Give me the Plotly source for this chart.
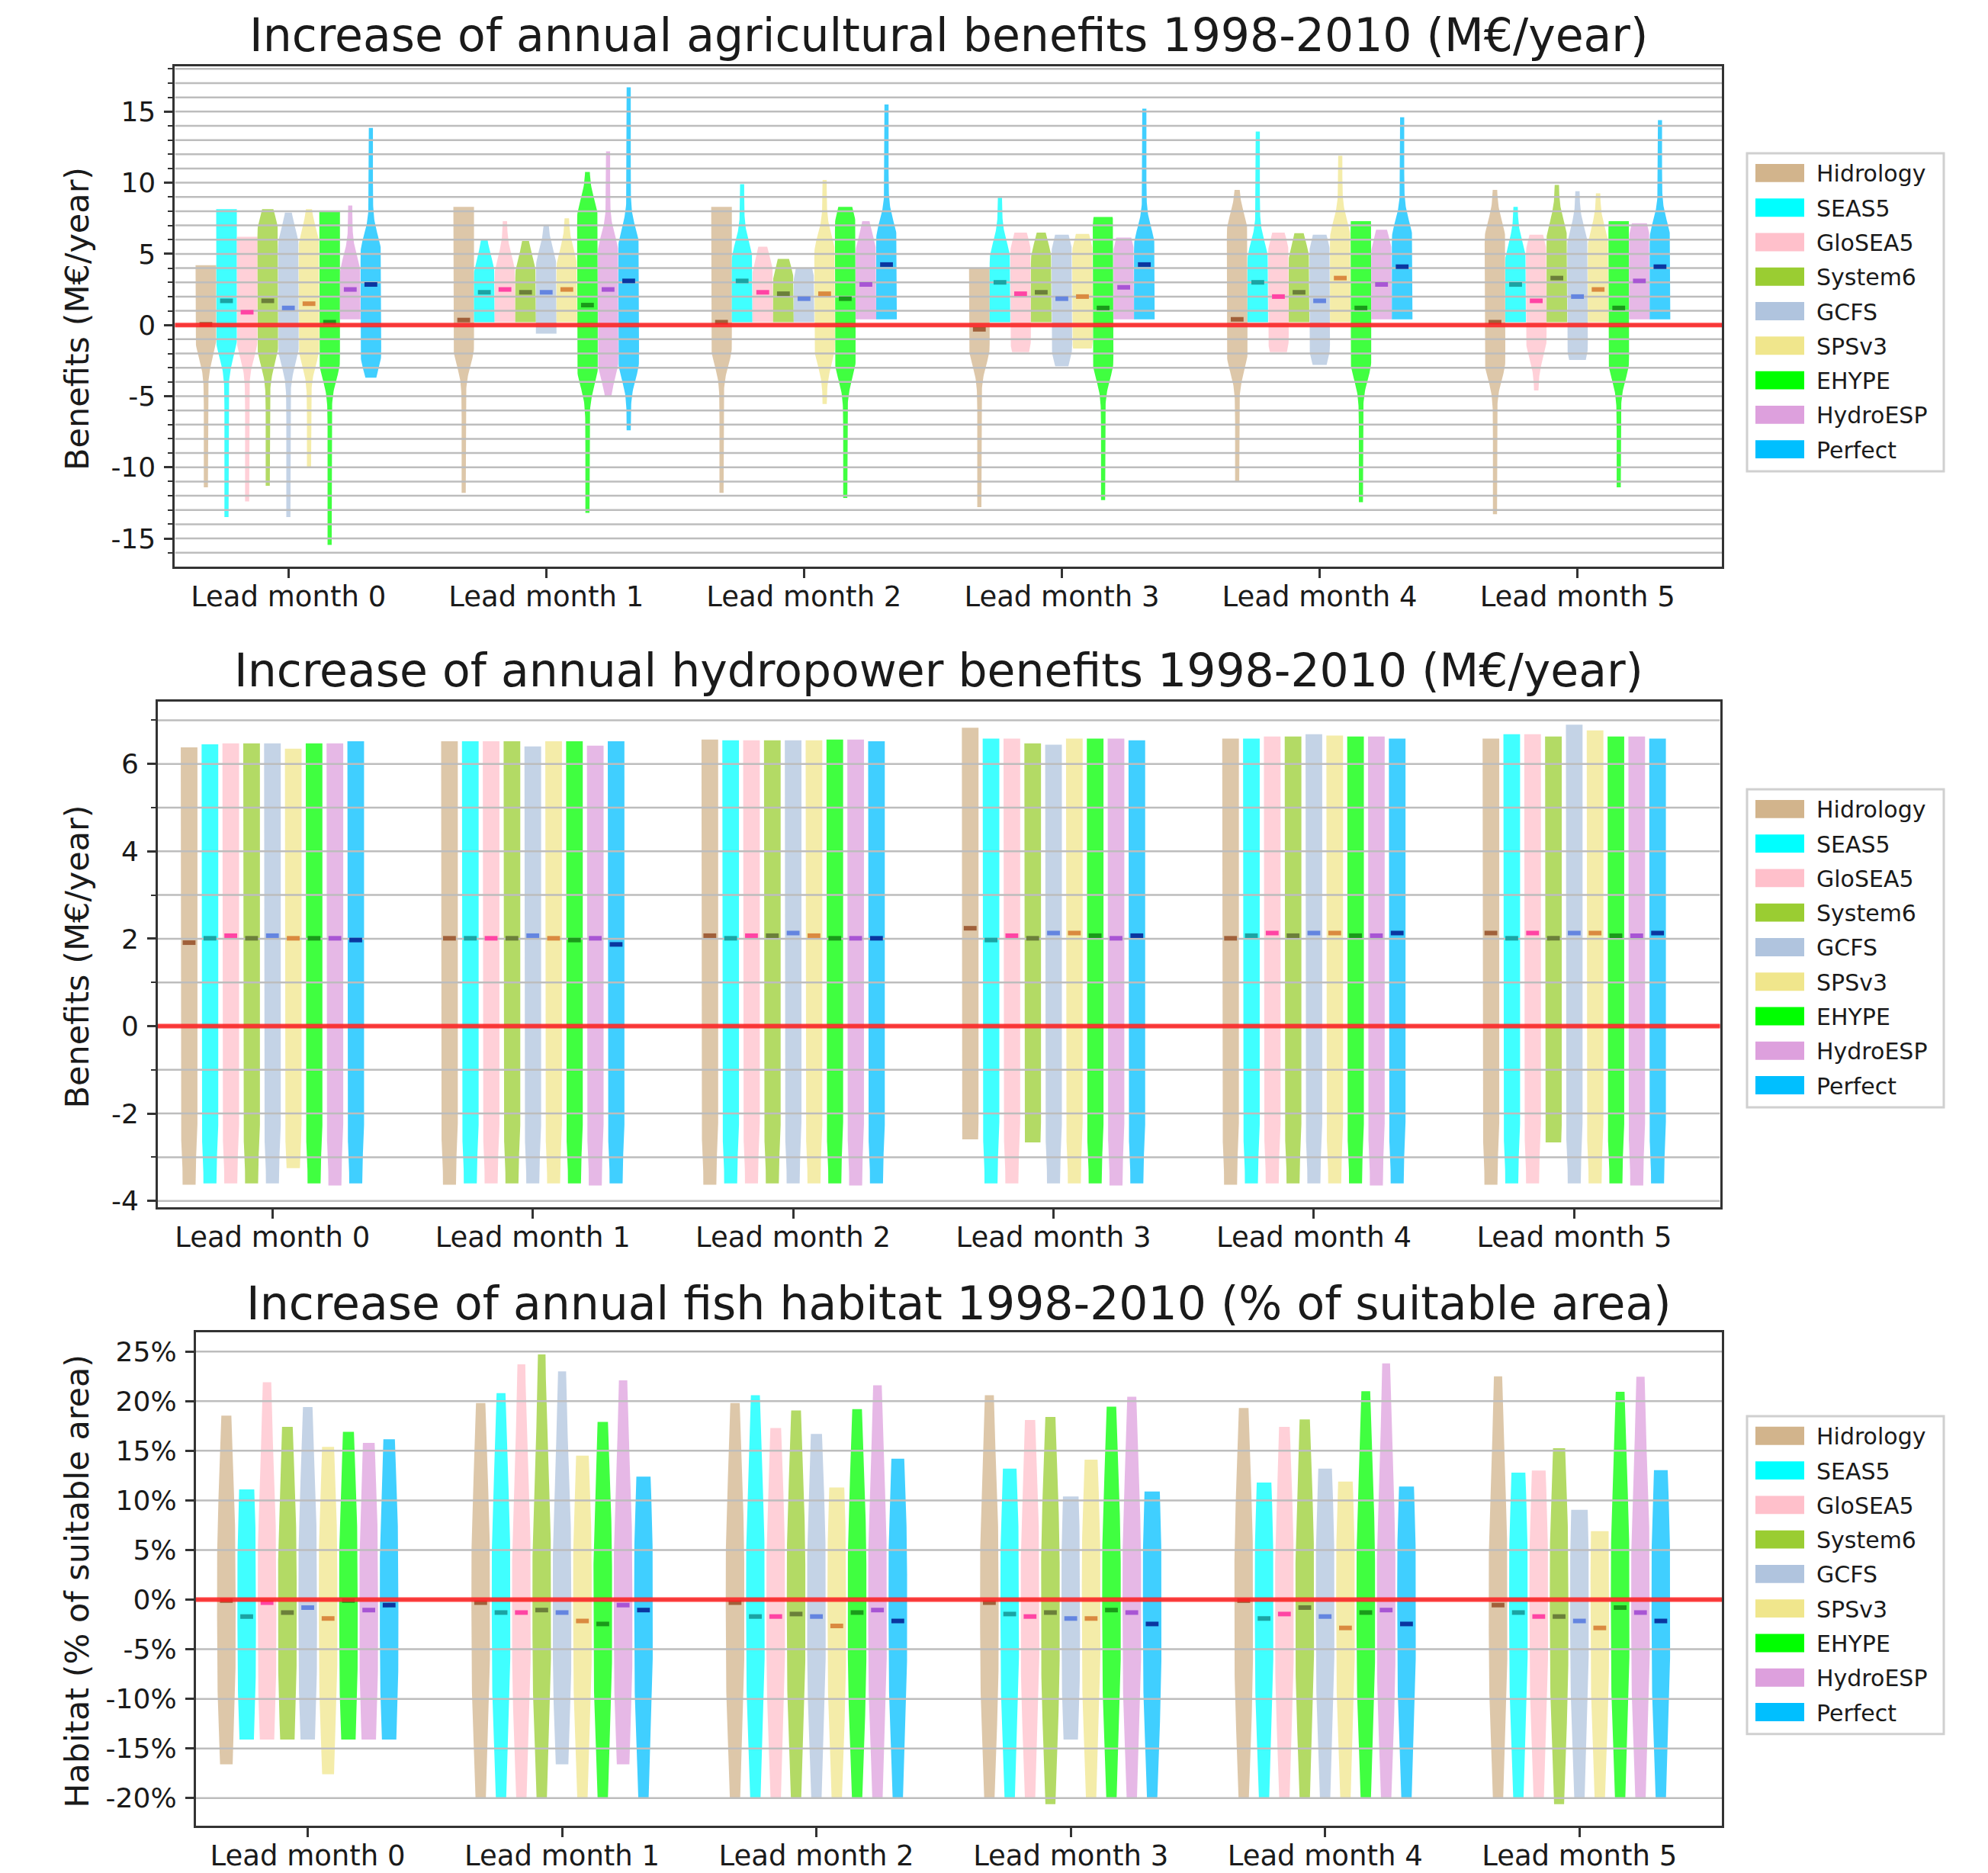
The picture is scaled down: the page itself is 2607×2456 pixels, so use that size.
import numpy as np
import plotly.graph_objects as go

# ---------------- data ----------------
MODELS = ["Hidrology", "SEAS5", "GloSEA5", "System6", "GCFS", "SPSv3", "EHYPE", "HydroESP", "Perfect"]
LEADS = ["Lead month 0", "Lead month 1", "Lead month 2", "Lead month 3", "Lead month 4", "Lead month 5"]

# Panel 1: agricultural benefits (M€/year); rows = lead month, cols = model
AGRI_MAX = [
    [4.2, 8.15, 6.2, 8.15, 7.9, 8.15, 8.0, 8.4, 13.85],
    [8.3, 6.0, 7.3, 5.9, 7.0, 7.5, 10.75, 12.2, 16.7],
    [8.3, 9.9, 5.5, 4.65, 4.0, 10.2, 8.3, 7.3, 15.5],
    [4.0, 8.95, 6.5, 6.5, 6.35, 6.4, 7.6, 6.15, 15.2],
    [9.5, 13.6, 6.5, 6.45, 6.35, 11.9, 7.3, 6.7, 14.6],
    [9.5, 8.3, 6.35, 9.85, 9.4, 9.25, 7.3, 7.15, 14.4],
]
AGRI_MIN = [
    [-11.4, -13.5, -12.4, -11.3, -13.5, -10.05, -15.45, 0.4, -3.7],
    [-11.8, 0.2, 0.2, 0.2, -0.6, 0.2, -13.2, -5.0, -7.4],
    [-11.8, 0.2, 0.2, 0.2, 0.2, -5.55, -12.15, 0.4, 0.4],
    [-12.8, 0.2, -1.9, 0.2, -2.9, -1.65, -12.3, 0.4, 0.4],
    [-11.0, 0.2, -1.9, 0.2, -2.8, 0.2, -12.45, 0.4, 0.4],
    [-13.3, 0.2, -4.6, 0.2, -2.45, 0.2, -11.4, 0.4, 0.4],
]
AGRI_MED = [
    [0.05, 1.7, 0.9, 1.7, 1.2, 1.5, 0.2, 2.5, 2.85],
    [0.35, 2.3, 2.5, 2.3, 2.3, 2.5, 1.4, 2.5, 3.1],
    [0.2, 3.1, 2.3, 2.2, 1.85, 2.2, 1.85, 2.85, 4.25],
    [-0.3, 3.0, 2.2, 2.3, 1.85, 2.0, 1.2, 2.65, 4.25],
    [0.4, 3.0, 2.0, 2.3, 1.7, 3.3, 1.2, 2.85, 4.1],
    [0.2, 2.85, 1.7, 3.3, 2.0, 2.5, 1.2, 3.1, 4.1],
]
# where the bulk of each agricultural distribution lies (widest part of the violin)
AGRI_BULK_LO = [
    [-1.0, -1.0, -1.0, -1.5, -1.5, -1.5, -2.5, 0.4, -2.0],
    [-1.5, 0.2, 0.2, 0.2, -0.6, 0.2, -3.0, -2.5, -2.5],
    [-1.5, 0.2, 0.2, 0.2, 0.2, -1.5, -2.5, 0.4, 0.4],
    [-1.5, 0.2, -1.0, 0.2, -1.5, -1.0, -2.5, 0.4, 0.4],
    [-2.0, 0.2, -1.0, 0.2, -1.5, 0.2, -2.5, 0.4, 0.4],
    [-2.5, 0.2, -1.0, 0.2, -1.5, 0.2, -2.5, 0.4, 0.4],
]
AGRI_BULK_HI = [
    [4.2, 8.15, 6.2, 6.5, 5.5, 5.5, 8.0, 3.5, 5.0],
    [8.3, 3.5, 3.5, 3.5, 4.0, 4.0, 7.5, 5.0, 5.5],
    [8.3, 4.5, 3.5, 3.0, 3.0, 5.0, 7.0, 5.0, 6.0],
    [4.0, 4.5, 5.0, 4.5, 5.0, 5.0, 7.0, 5.0, 5.5],
    [6.5, 4.5, 5.0, 4.5, 5.0, 6.0, 7.0, 5.0, 6.0],
    [6.0, 4.5, 5.0, 6.0, 5.5, 5.5, 7.0, 6.0, 6.0],
]

# Panel 2: hydropower benefits (M€/year)
HYDRO_MAX = [
    [6.38, 6.45, 6.47, 6.47, 6.47, 6.35, 6.47, 6.47, 6.52],
    [6.52, 6.52, 6.52, 6.52, 6.40, 6.52, 6.52, 6.42, 6.52],
    [6.56, 6.54, 6.54, 6.54, 6.54, 6.54, 6.56, 6.56, 6.52],
    [6.83, 6.58, 6.58, 6.47, 6.44, 6.58, 6.58, 6.58, 6.54],
    [6.58, 6.58, 6.63, 6.63, 6.68, 6.65, 6.63, 6.63, 6.58],
    [6.58, 6.68, 6.68, 6.63, 6.90, 6.77, 6.63, 6.63, 6.58],
]
HYDRO_MIN = [
    [-3.63, -3.6, -3.6, -3.6, -3.6, -3.25, -3.6, -3.65, -3.6],
    [-3.63, -3.6, -3.6, -3.6, -3.6, -3.6, -3.6, -3.65, -3.6],
    [-3.63, -3.6, -3.6, -3.6, -3.6, -3.6, -3.6, -3.65, -3.6],
    [-2.59, -3.6, -3.6, -2.66, -3.6, -3.6, -3.6, -3.65, -3.6],
    [-3.63, -3.6, -3.6, -3.6, -3.6, -3.6, -3.6, -3.65, -3.6],
    [-3.63, -3.6, -3.6, -2.66, -3.6, -3.6, -3.6, -3.65, -3.6],
]
HYDRO_MED = [
    [1.91, 2.01, 2.07, 2.01, 2.07, 2.01, 2.01, 2.01, 1.97],
    [2.01, 2.01, 2.01, 2.01, 2.07, 2.01, 1.97, 2.01, 1.87],
    [2.07, 2.01, 2.07, 2.07, 2.13, 2.07, 2.01, 2.01, 2.01],
    [2.24, 1.97, 2.07, 2.01, 2.13, 2.13, 2.07, 2.01, 2.07],
    [2.01, 2.07, 2.13, 2.07, 2.13, 2.13, 2.07, 2.07, 2.13],
    [2.13, 2.01, 2.13, 2.01, 2.13, 2.13, 2.07, 2.07, 2.13],
]

# Panel 3: fish habitat (% of suitable area)
FISH_MAX = [
    [18.55, 11.1, 21.9, 17.4, 19.4, 15.4, 16.9, 15.8, 16.15],
    [19.8, 20.8, 23.7, 24.7, 23.0, 14.5, 17.9, 22.1, 12.4],
    [19.8, 20.6, 17.3, 19.05, 16.7, 11.3, 19.2, 21.6, 14.2],
    [20.6, 13.2, 18.1, 18.4, 10.4, 14.1, 19.45, 20.45, 10.9],
    [19.3, 11.8, 17.4, 18.15, 13.2, 11.9, 21.0, 23.8, 11.4],
    [22.5, 12.8, 13.0, 15.25, 9.05, 6.9, 20.95, 22.45, 13.05],
]
FISH_MIN = [
    [-16.6, -14.1, -14.1, -14.1, -14.1, -17.6, -14.1, -14.1, -14.1],
    [-20.0, -20.0, -20.0, -20.0, -16.6, -20.0, -20.0, -16.6, -20.0],
    [-20.0, -20.0, -20.0, -20.0, -20.0, -20.0, -20.0, -20.0, -20.0],
    [-20.0, -20.0, -20.0, -20.6, -14.1, -20.0, -20.0, -20.0, -20.0],
    [-20.0, -20.0, -20.0, -20.0, -20.0, -20.0, -20.0, -20.0, -20.0],
    [-20.0, -20.0, -20.0, -20.6, -20.0, -20.0, -20.0, -20.0, -20.0],
]
FISH_MED = [
    [-0.1, -1.7, -0.3, -1.3, -0.8, -1.9, -0.1, -1.05, -0.55],
    [-0.3, -1.3, -1.3, -1.05, -1.3, -2.15, -2.45, -0.55, -1.05],
    [-0.3, -1.7, -1.7, -1.45, -1.7, -2.65, -1.3, -1.05, -2.15],
    [-0.3, -1.45, -1.7, -1.3, -1.9, -1.9, -1.05, -1.3, -2.45],
    [-0.1, -1.9, -1.45, -0.8, -1.7, -2.85, -1.3, -1.05, -2.45],
    [-0.55, -1.3, -1.7, -1.7, -2.15, -2.85, -0.8, -1.3, -2.15],
]

AGRI_TICKS = [-15, -10, -5, 0, 5, 10, 15]
HYDRO_TICKS = [-4, -2, 0, 2, 4, 6]
FISH_TICKS = [-20, -15, -10, -5, 0, 5, 10, 15, 20, 25]

TITLES = [
    "Increase of annual agricultural benefits 1998-2010 (M€/year)",
    "Increase of annual hydropower benefits 1998-2010 (M€/year)",
    "Increase of annual fish habitat 1998-2010 (% of suitable area)",
]
YTITLES = ["Benefits (M€/year)", "Benefits (M€/year)", "Habitat (% of suitable area)"]

# ---------------- style ----------------
FILL = ["#D2B48C", "#00FFFF", "#FFC0CB", "#9ACD32", "#B0C4DE", "#F0E68C", "#00FF00", "#DDA0DD", "#00BFFF"]
MEDC = ["#A0603A", "#1BA3A3", "#FF44A4", "#6B7F3A", "#6485E0", "#DA8A40", "#1A9A1A", "#A855D4", "#0A36A0"]
FONT = "DejaVu Sans"
TXT = "#1a1a1a"
FRAME = "#333333"
GRID = "#BDBDBD"

W, H = 2607, 2456
XR = [-0.44, 5.56]
STEP = 0.08

def px(v):
    return v / W

def py(v):
    return 1 - v / H

def rgba(hexc, a):
    h = hexc.lstrip("#")
    return "rgba(%d,%d,%d,%.2f)" % (int(h[0:2], 16), int(h[2:4], 16), int(h[4:6], 16), a)

panels = [
    dict(mx=AGRI_MAX, mn=AGRI_MIN, md=AGRI_MED, blo=AGRI_BULK_LO, bhi=AGRI_BULK_HI,
         width=0.08, s=1.8, t=0.2, yr=[-17.0, 18.2], ticks=AGRI_TICKS, suffix="",
         grid=list(range(-16, 19)), frame=(221.4, 2250, 79, 739), title_y=1),
    dict(mx=HYDRO_MAX, mn=HYDRO_MIN, md=HYDRO_MED, blo=None, bhi=None, bulk=(-2.3, 99.0),
         width=0.064, s=0.6, t=0.78, yr=[-4.15, 7.43], ticks=HYDRO_TICKS, suffix="",
         grid=list(range(-4, 8)), frame=(199, 2247.6, 916.3, 1583), title_y=838),
    dict(mx=FISH_MAX, mn=FISH_MIN, md=FISH_MED, blo=None, bhi=None, bulk=(-5.0, 3.0),
         width=0.073, s=14.0, t=0.35, yr=[-22.8, 26.9], ticks=FISH_TICKS, suffix="%",
         grid=FISH_TICKS, frame=(248.8, 2250, 1748, 2398), title_y=1672),
]

fig = go.Figure()
shapes = []
annotations = []

for p, P in enumerate(panels):
    xa = "x" if p == 0 else "x%d" % (p + 1)
    ya = "y" if p == 0 else "y%d" % (p + 1)
    # violins
    for m in range(len(MODELS)):
        xs, ys = [], []
        for g in range(len(LEADS)):
            lo, hi = P["mn"][g][m], P["mx"][g][m]
            if P["blo"] is not None:
                blo, bhi = P["blo"][g][m], P["bhi"][g][m]
            else:
                blo, bhi = P["bulk"]
            yy = np.linspace(lo, hi, 160)
            d = np.maximum(0, np.maximum(blo - yy, yy - bhi))
            prof = P["t"] + (1 - P["t"]) * np.exp(-(d / P["s"]) ** 2)
            hw = P["width"] / 2 * prof
            c = g + (m - 4) * STEP
            xs += list(c + hw) + list((c - hw)[::-1]) + [None]
            ys += list(yy) + list(yy[::-1]) + [None]
        fig.add_trace(go.Scatter(x=xs, y=ys, xaxis=xa, yaxis=ya, mode="lines", fill="toself",
                                 fillcolor=rgba(FILL[m], 0.75), line=dict(width=0, color=rgba(FILL[m], 0.0)),
                                 hoverinfo="skip", showlegend=False))
    # grid drawn above the violins
    gx, gy = [], []
    for v in P["grid"]:
        gx += [XR[0], XR[1], None]
        gy += [v, v, None]
    fig.add_trace(go.Scatter(x=gx, y=gy, xaxis=xa, yaxis=ya, mode="lines",
                             line=dict(color=GRID, width=2.5), hoverinfo="skip", showlegend=False))
    # medians
    for m in range(len(MODELS)):
        mxs = [g + (m - 4) * STEP for g in range(len(LEADS))]
        mys = [P["md"][g][m] for g in range(len(LEADS))]
        fig.add_trace(go.Scatter(x=mxs, y=mys, xaxis=xa, yaxis=ya, mode="markers",
                                 marker=dict(symbol="line-ew", size=12, line=dict(width=6, color=MEDC[m])),
                                 hoverinfo="skip", showlegend=False))
    # zero line
    shapes.append(dict(type="line", xref=xa + " domain", yref=ya, x0=0, x1=1, y0=0, y1=0,
                       line=dict(color="rgba(255,30,30,0.85)", width=6), layer="above"))

    L, R, T, B = P["frame"]
    xkey = "xaxis" if p == 0 else "xaxis%d" % (p + 1)
    ykey = "yaxis" if p == 0 else "yaxis%d" % (p + 1)
    minor_vals = [v for v in P["grid"] if v not in P["ticks"]]
    fig.update_layout(**{
        xkey: dict(domain=[px(L), px(R)], range=XR, anchor=ya, tickmode="array",
                   tickvals=list(range(len(LEADS))), ticktext=LEADS, ticks="outside", ticklen=12,
                   tickwidth=2.5, tickcolor=FRAME, showline=True, linecolor=FRAME, linewidth=3,
                   mirror=True, showgrid=False, zeroline=False, ticklabelstandoff=-8,
                   tickfont=dict(family=FONT, size=37, color=TXT)),
        ykey: dict(domain=[py(B), py(T)], range=P["yr"], anchor=xa, tickmode="array",
                   tickvals=P["ticks"], ticktext=["%d%s" % (v, P["suffix"]) for v in P["ticks"]],
                   ticks="outside", ticklen=11, tickwidth=2.5, tickcolor=FRAME, showline=True,
                   linecolor=FRAME, linewidth=3, mirror=True, showgrid=False, zeroline=False,
                   ticklabelstandoff=4,
                   tickfont=dict(family=FONT, size=36, color=TXT),
                   minor=dict(tickmode="array", tickvals=minor_vals, ticks="outside", ticklen=6,
                              tickwidth=2, tickcolor=FRAME, showgrid=False)),
    })

    # titles (box top anchored so nothing is cut at the page edge)
    cx = (L + R) / 2
    annotations.append(dict(text=TITLES[p], xref="paper", yref="paper", x=px(cx), y=py(P["title_y"]),
                            xanchor="center", yanchor="top", showarrow=False,
                            font=dict(family=FONT, size=60, color=TXT)))
    annotations.append(dict(text=YTITLES[p], xref="paper", yref="paper", x=px(93), y=py((T + B) / 2 + 3),
                            xanchor="center", yanchor="middle", showarrow=False, textangle=-90,
                            font=dict(family=FONT, size=43, color=TXT)))

# legends (one per panel)
LEG_TOPS = [194, 1032, 1858]
for top in LEG_TOPS:
    shapes.append(dict(type="rect", xref="paper", yref="paper", x0=px(2283), x1=px(2541),
                       y0=py(top + 419), y1=py(top), line=dict(color="#D0D0D0", width=3),
                       fillcolor="white", layer="above"))
    for i, name in enumerate(MODELS):
        cy = top + 26 + 45.5 * i
        shapes.append(dict(type="rect", xref="paper", yref="paper", x0=px(2294), x1=px(2358),
                           y0=py(cy + 12), y1=py(cy - 12), line=dict(width=0), fillcolor=FILL[i],
                           layer="above"))
        annotations.append(dict(text=name, xref="paper", yref="paper", x=px(2372), y=py(cy + 1),
                                xanchor="left", yanchor="middle", showarrow=False,
                                font=dict(family=FONT, size=30, color=TXT)))

fig.update_layout(width=W, height=H, margin=dict(l=0, r=0, t=0, b=0), paper_bgcolor="white",
                  plot_bgcolor="white", showlegend=False, shapes=shapes, annotations=annotations,
                  font=dict(family=FONT, color=TXT))

fig.write_html("out.html")
